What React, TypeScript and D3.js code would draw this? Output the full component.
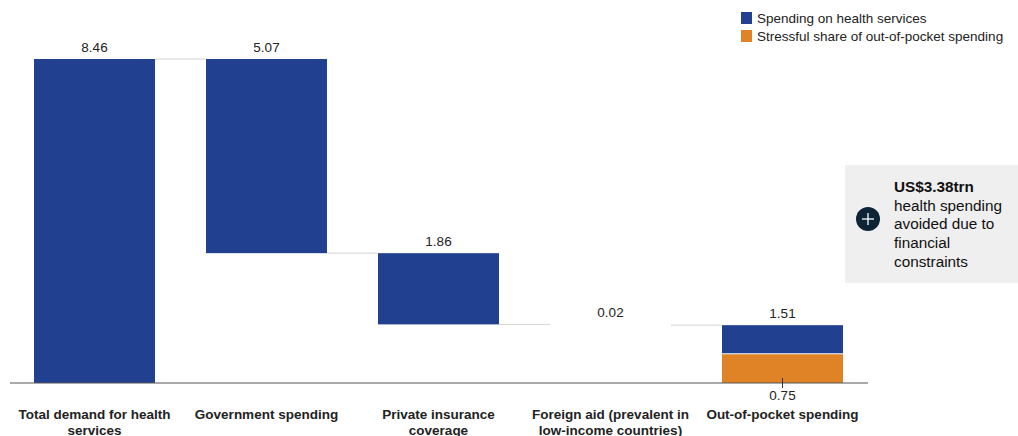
import React from "react";
import * as d3 from "d3";

const categories = [
  ["Total demand for health", "services"],
  ["Government spending"],
  ["Private insurance", "coverage"],
  ["Foreign aid (prevalent in", "low-income countries)"],
  ["Out-of-pocket spending"],
];
const values = [8.46, 5.07, 1.86, 0.02, 1.51];
const stressful = 0.75;
const legendItems = ["Spending on health services", "Stressful share of out-of-pocket spending"];
const annotation = ["US$3.38trn", "health spending", "avoided due to", "financial", "constraints"];

const BLUE = "#21408f";
const ORANGE = "#e08326";

export default function App() {
  const W = 1018, H = 436;
  const x = d3.scaleBand<number>().domain(d3.range(values.length)).range([34, 843]).paddingInner(51 / 172).paddingOuter(0);
  const y = d3.scaleLinear().domain([0, values[0]]).range([383, 59]);
  const bars: { top: number; bottom: number }[] = [];
  let cum = values[0];
  values.forEach((v, i) => {
    if (i === 0) bars.push({ top: v, bottom: 0 });
    else if (i === values.length - 1) bars.push({ top: v, bottom: 0 });
    else {
      bars.push({ top: cum, bottom: cum - v });
      cum -= v;
    }
  });
  const connectorLevels = bars.slice(1).map((b) => b.top);
  const bw = x.bandwidth();
  const font = "Liberation Sans, Arial, sans-serif";
  const fs = 13.5;
  return (
    <svg width={W} height={H} style={{ position: "absolute", left: 0, top: 0 }} fontFamily={font}>
      <rect width={W} height={H} fill="#fff" />
      {connectorLevels.map((lv, i) => (
        <line key={"c" + i} x1={x(i)! + bw} x2={x(i + 1)!} y1={y(lv)} y2={y(lv)} stroke="#d4d4d4" strokeWidth={1} />
      ))}
      {bars.map((b, i) => {
        const last = i === values.length - 1;
        if (last) {
          return (
            <g key={"b" + i}>
              <rect x={x(i)} y={y(b.top)} width={bw} height={y(stressful) - y(b.top) - 1} fill={BLUE} />
              <rect x={x(i)} y={y(stressful)} width={bw} height={y(0) - y(stressful)} fill={ORANGE} />
            </g>
          );
        }
        const h = y(b.bottom) - y(b.top);
        return h >= 2 ? <rect key={"b" + i} x={x(i)} y={y(b.top)} width={bw} height={h} fill={BLUE} /> : null;
      })}
      {bars.map((b, i) => (
        <text key={"v" + i} x={x(i)! + bw / 2} y={y(b.top) - 7} textAnchor="middle" fontSize={fs} fill="#222">
          {values[i].toFixed(2)}
        </text>
      ))}
      <line x1={10} x2={868} y1={y(0)} y2={y(0)} stroke="#555" strokeWidth={1.2} />
      <line x1={x(4)! + bw / 2} x2={x(4)! + bw / 2} y1={y(0) - 5} y2={y(0) + 5} stroke="#333" strokeWidth={1} />
      <text x={x(4)! + bw / 2} y={y(0) + 17} textAnchor="middle" fontSize={fs} fill="#222">
        {stressful.toFixed(2)}
      </text>
      {categories.map((lines, i) => (
        <text key={"k" + i} x={x(i)! + bw / 2} y={419} textAnchor="middle" fontSize={fs} fontWeight="bold" fill="#222">
          {lines.map((l, j) => (
            <tspan key={j} x={x(i)! + bw / 2} dy={j === 0 ? 0 : 16}>
              {l}
            </tspan>
          ))}
        </text>
      ))}
      {legendItems.map((t, i) => (
        <g key={"l" + i} transform={`translate(741,${12 + i * 18})`}>
          <rect width={11} height={12} fill={i === 0 ? BLUE : ORANGE} />
          <text x={16} y={11} fontSize={fs} fill="#222">{t}</text>
        </g>
      ))}
      <rect x={845} y={165} width={180} height={118} fill="#efefef" />
      <circle cx={868} cy={219} r={12} fill="#0d2436" />
      <line x1={862} x2={874} y1={219} y2={219} stroke="#fff" strokeWidth={1.3} />
      <line x1={868} x2={868} y1={213} y2={225} stroke="#fff" strokeWidth={1.3} />
      <text x={894} y={192} fontSize={15.3} fill="#111">
        {annotation.map((t, i) => (
          <tspan key={i} x={894} dy={i === 0 ? 0 : 18.7} fontWeight={i === 0 ? "bold" : "normal"}>
            {t}
          </tspan>
        ))}
      </text>
    </svg>
  );
}
